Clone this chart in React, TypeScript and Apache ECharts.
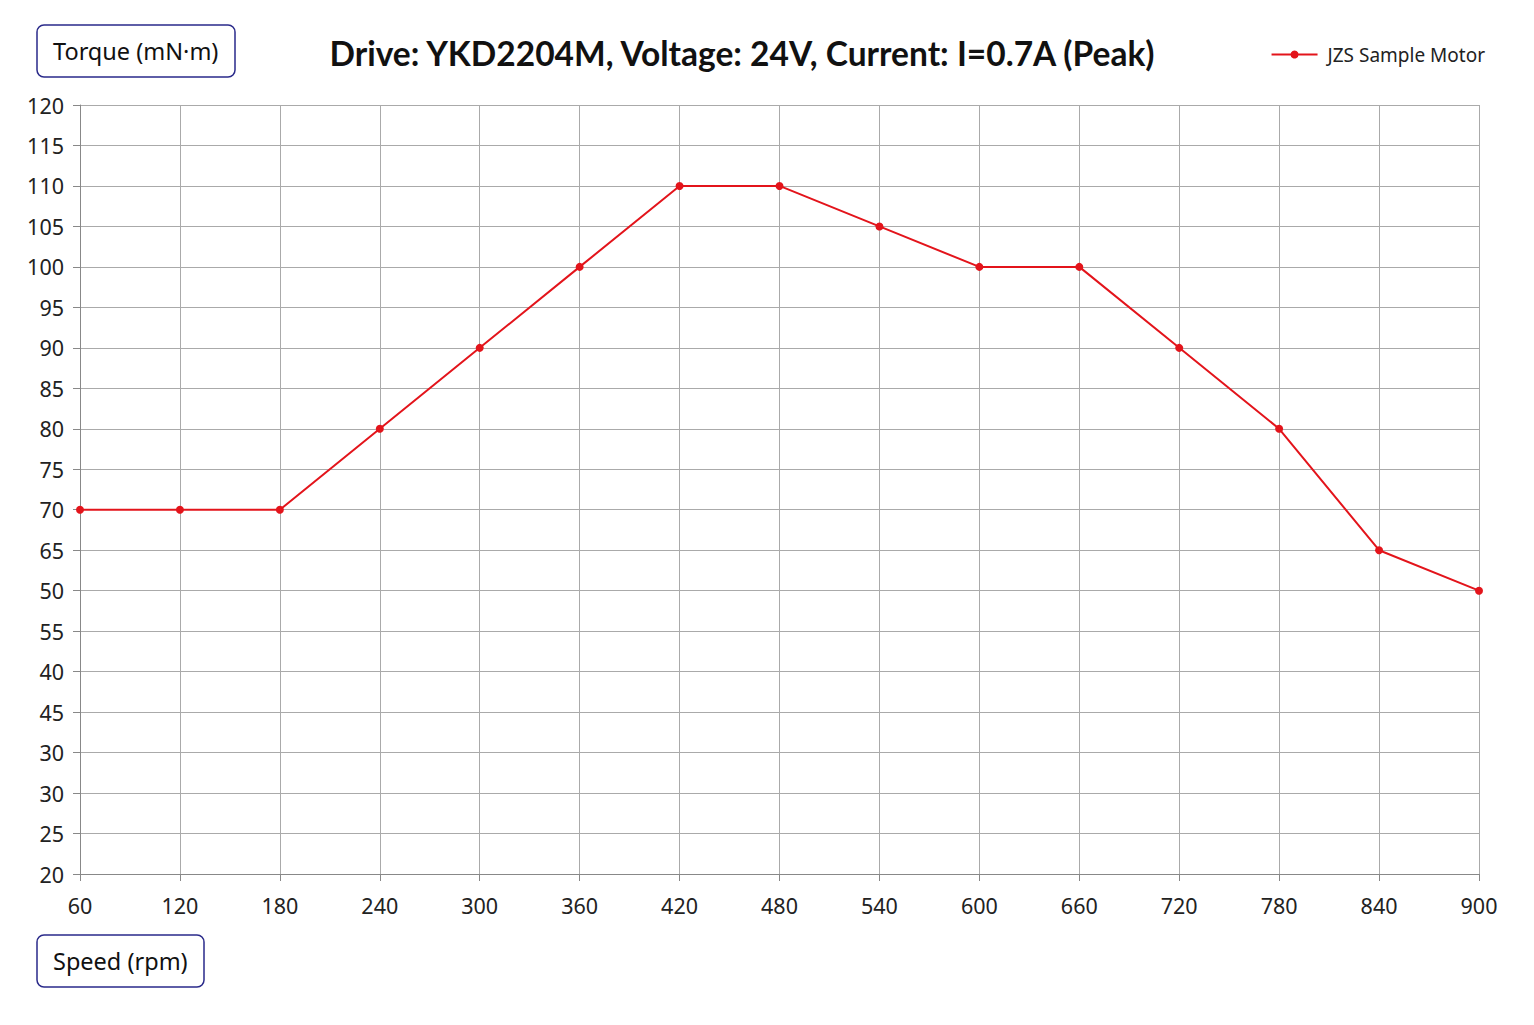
import { useEffect, useRef } from "react";
import * as echarts from "echarts";

// 转速 (rpm)
const speeds = [60, 120, 180, 240, 300, 360, 420, 480, 540, 600, 660, 720, 780, 840, 900];
// 转矩 (mN·m)
const torques = [70, 70, 70, 80, 90, 100, 110, 110, 105, 100, 100, 90, 80, 65, 60];
// 纵轴刻度文字（自下而上，按原图照抄）
const yTickLabels = [
  "20", "25", "30", "30", "45", "40", "55", "50", "65", "70",
  "75", "80", "85", "90", "95", "100", "105", "110", "115", "120",
];

const FONT = "'Noto Sans', 'Open Sans', sans-serif";

function App() {
  const containerRef = useRef<HTMLDivElement>(null);

  useEffect(() => {
    if (!containerRef.current) return;
    const chart = echarts.init(containerRef.current, undefined, { renderer: "svg" });

    const boxStyle = {
      left: 37,
      padding: [14, 17, 14, 16],
      borderColor: "#2a2a8a",
      borderWidth: 1.5,
      borderRadius: 7,
      textStyle: { fontSize: 23.5, fontWeight: "normal", color: "#111", fontFamily: FONT },
    };

    chart.setOption({
      animation: false,
      backgroundColor: "#ffffff",
      textStyle: { fontFamily: FONT },
      title: [
        {
          text: "Drive: YKD2204M, Voltage: 24V, Current: I=0.7A (Peak)",
          left: 737,
          top: 31,
          textAlign: "center",
          textStyle: { fontSize: 33.5, fontWeight: "bold", color: "#111", fontFamily: "Lato, 'Noto Sans', sans-serif" },
        },
        { ...boxStyle, text: "Torque (mN·m)", top: 25 },
        { ...boxStyle, text: "Speed (rpm)", top: 935 },
      ],
      legend: {
        right: 44,
        top: 40,
        itemWidth: 46,
        itemHeight: 10,
        itemGap: 10,
        textStyle: { fontSize: 19, color: "#222", fontFamily: FONT, padding: [0, 0, 0, 5] },
        data: ["JZS Sample Motor"],
      },
      grid: { left: 80, right: 55, top: 105, bottom: 151, containLabel: false },
      xAxis: {
        type: "value",
        min: 60,
        max: 900,
        interval: 60,
        axisLine: { show: true, lineStyle: { color: "#888", width: 1 } },
        axisTick: { show: true, length: 7, lineStyle: { color: "#888" } },
        splitLine: { show: true, lineStyle: { color: "#aaa", width: 1 } },
        axisLabel: { fontSize: 21.5, color: "#222", margin: 20, fontFamily: FONT },
      },
      yAxis: {
        type: "value",
        min: 25,
        max: 120,
        interval: 5,
        axisLine: { show: true, lineStyle: { color: "#888", width: 1 } },
        axisTick: { show: true, length: 7, lineStyle: { color: "#888" } },
        splitLine: { show: true, lineStyle: { color: "#aaa", width: 1 } },
        axisLabel: {
          fontSize: 21.5,
          color: "#222",
          margin: 16,
          fontFamily: FONT,
          formatter: (v: number) => yTickLabels[Math.round((v - 25) / 5)] ?? "",
        },
      },
      series: [
        {
          name: "JZS Sample Motor",
          type: "line",
          data: speeds.map((s, i) => [s, torques[i]]),
          symbol: "circle",
          symbolSize: 8,
          lineStyle: { color: "#e3141b", width: 2 },
          itemStyle: { color: "#e3141b" },
        },
      ],
    });

    return () => {
      chart.dispose();
    };
  }, []);

  return (
    <div
      ref={containerRef}
      style={{ position: "fixed", left: 0, top: 0, width: 1534, height: 1025 }}
    ></div>
  );
}

export default App;
